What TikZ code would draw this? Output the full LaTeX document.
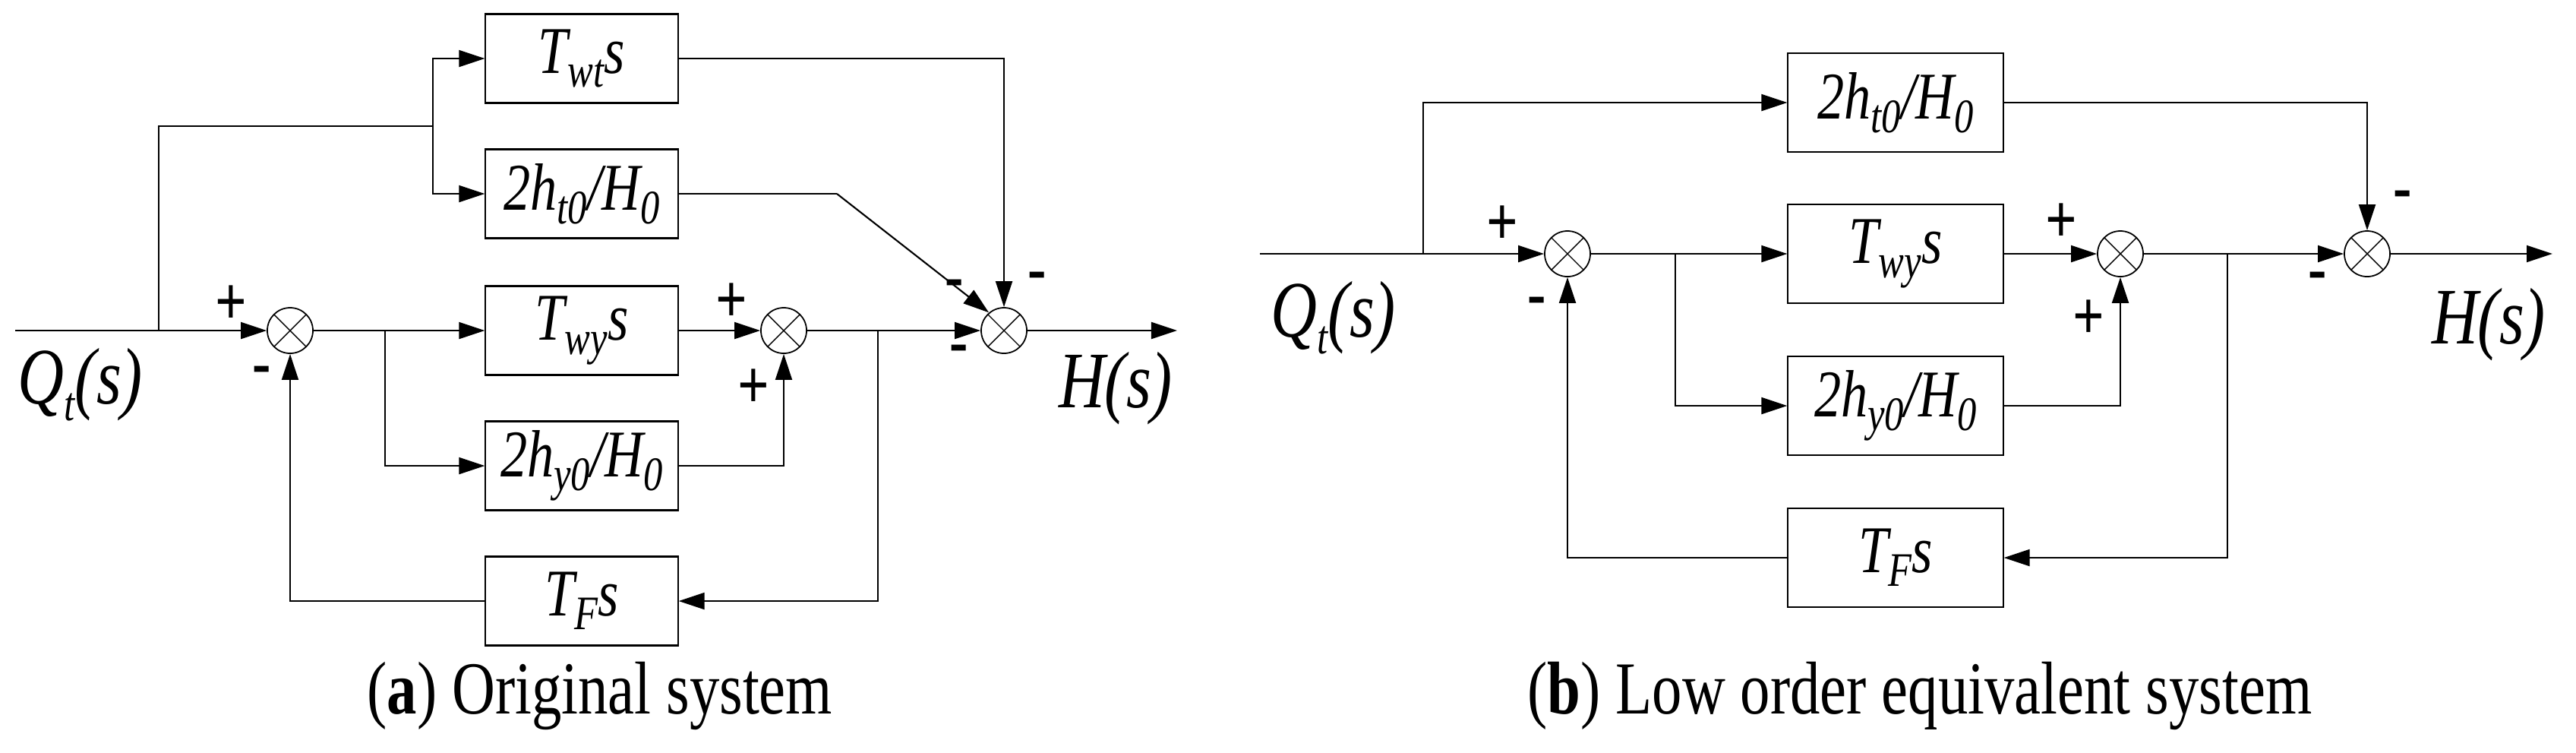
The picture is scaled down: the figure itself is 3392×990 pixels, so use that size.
\documentclass[tikz,border=0pt]{standalone}
\usepackage{fontspec}
\setmainfont{Liberation Serif}[FakeStretch=0.8]
\usetikzlibrary{arrows.meta}
\newcommand{\lsb}[1]{\raisebox{-0.45ex}{\fontsize{18}{18}\selectfont #1}}
\begin{document}
\begin{tikzpicture}[x=0.01cm,y=-0.01cm,
  every node/.style={font=\fontsize{25}{25}\selectfont\itshape},
  blk/.style={draw,line width=0.6pt,minimum width=#1,inner sep=0pt},
  blka/.style={blk=2.53cm,minimum height=1.17cm},
  blkb/.style={blk=2.83cm,minimum height=1.30cm},
  sum/.style={draw,circle,minimum size=0.6cm,inner sep=0pt,line width=0.5pt,
    path picture={\draw[line width=0.4pt] (path picture bounding box.north west)--(path picture bounding box.south east)
      (path picture bounding box.north east)--(path picture bounding box.south west);}},
  sg/.style={font=\fontsize{26}{26}\selectfont\upshape\bfseries},
  ar/.style={-{Triangle[length=0.34cm,width=0.22cm]}},
  lab/.style={font=\fontsize{30}{30}\selectfont\itshape},
  line width=0.6pt]
\useasboundingbox (0,0) rectangle (3392,990);
% ---------- (a) ----------
\node[blka] (twt) at (766,77) {T\lsb{wt}s};
\node[blka] (ht) at (766,255) {2h\lsb{t0}/H\lsb{0}};
\node[blka] (twy) at (766,435) {T\lsb{wy}s};
\node[blka] (hy) at (766,613) {2h\lsb{y0}/H\lsb{0}};
\node[blka] (tf) at (766,791) {T\lsb{F}s};
\node[sum] (s1) at (382,435) {};
\node[sum] (s2) at (1032,435) {};
\node[sum] (s3) at (1322,435) {};
\coordinate (in) at (20,435);
\coordinate (ba) at (209,435);
\coordinate (bc) at (570,166);
\coordinate (bd) at (507,435);
\coordinate (be) at (1156,435);
\coordinate (dk) at (1102,255);
\coordinate (out) at (1550,435);
\draw[ar] (in) -- (s1.west);
\draw (ba) |- (bc);
\draw[ar] (bc) |- (twt.west);
\draw[ar] (bc) |- (ht.west);
\draw[ar] (s1.east) -- (twy.west);
\draw[ar] (bd) |- (hy.west);
\draw[ar] (twy.east) -- (s2.west);
\draw[ar] (hy.east) -| (s2.south);
\draw[ar] (s2.east) -- (s3.west);
\draw[ar] (be) |- (tf.east);
\draw[ar] (tf.west) -| (s1.south);
\draw[ar] (twt.east) -| (s3.north);
\draw (ht.east) -- (dk);
\draw[ar] (dk) -- (s3.130);
\draw[ar] (s3.east) -- (out);
\node[sg] (p1) at (304,402) {+};
\node[sg] (m1) at (345,495) {-};
\node[sg] (p2) at (963,399) {+};
\node[sg] (p3) at (992,512) {+};
\node[sg] (m2) at (1257,381) {-};
\node[sg] (m3) at (1366,371) {-};
\node[sg] (m4) at (1263,467) {-};
\node[lab] (qa) at (106,506) {Q\lsb{t}(s)};
\node[lab] (ha) at (1469,511) {H(s)};
\node[font=\fontsize{28}{28}\selectfont] (ca) at (790,916) {(\textbf{a}) Original system};
% ---------- (b) ----------
\node[blkb] (bht) at (2496,135) {2h\lsb{t0}/H\lsb{0}};
\node[blkb] (btwy) at (2496,334) {T\lsb{wy}s};
\node[blkb] (bhy) at (2496,534) {2h\lsb{y0}/H\lsb{0}};
\node[blkb] (btf) at (2496,734) {T\lsb{F}s};
\node[sum] (t1) at (2064,334) {};
\node[sum] (t2) at (2792,334) {};
\node[sum] (t3) at (3117,334) {};
\coordinate (bin) at (1659,334);
\coordinate (ca1) at (1874,334);
\coordinate (cb1) at (2206,334);
\coordinate (cc1) at (2933,334);
\coordinate (bout) at (3361,334);
\draw[ar] (bin) -- (t1.west);
\draw[ar] (ca1) |- (bht.west);
\draw[ar] (t1.east) -- (btwy.west);
\draw[ar] (cb1) |- (bhy.west);
\draw[ar] (btwy.east) -- (t2.west);
\draw[ar] (bhy.east) -| (t2.south);
\draw[ar] (t2.east) -- (t3.west);
\draw[ar] (cc1) |- (btf.east);
\draw[ar] (btf.west) -| (t1.south);
\draw[ar] (bht.east) -| (t3.north);
\draw[ar] (t3.east) -- (bout);
\node[sg] (q1) at (1978,297) {+};
\node[sg] (n1) at (2024,404) {-};
\node[sg] (q2) at (2714,294) {+};
\node[sg] (q3) at (2750,421) {+};
\node[sg] (n2) at (3164,264) {-};
\node[sg] (n3) at (3052,371) {-};
\node[lab] (qb) at (1756,418) {Q\lsb{t}(s)};
\node[lab] (hb) at (3277,427) {H(s)};
\node[font=\fontsize{28}{28}\selectfont] (cb) at (2528,916) {(\textbf{b}) Low order equivalent system};
\end{tikzpicture}
\end{document}
